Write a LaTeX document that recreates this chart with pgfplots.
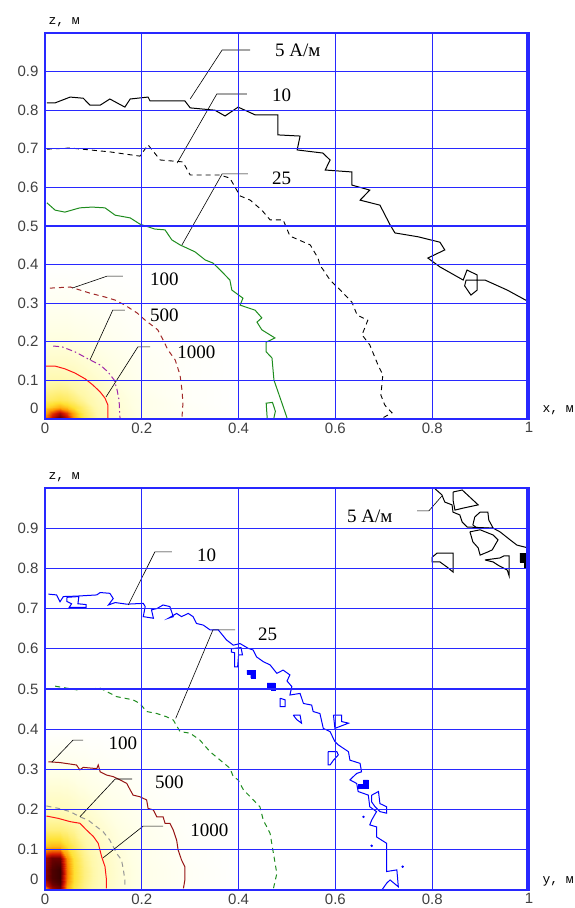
\documentclass[border=0pt]{standalone}
\usepackage{fontspec}
\setmainfont{Liberation Serif}
\newfontfamily\ticksf{Liberation Sans}
\newfontfamily\monof{Liberation Mono}
\usepackage{pgfplots}
\pgfplotsset{compat=1.18}
\definecolor{gridblue}{RGB}{40,40,255}
\definecolor{cgreen}{RGB}{30,140,30}
\definecolor{cdred}{RGB}{160,40,40}
\definecolor{cpurple}{RGB}{160,40,170}
\definecolor{cred}{RGB}{255,20,20}
\definecolor{cbrown}{RGB}{150,20,20}
\definecolor{cgray}{RGB}{150,150,150}
\newcommand{\annot}{\fontsize{19}{19}\selectfont}
\pgfplotsset{
  mathcad/.style={
    scale only axis, width=484pt,
    xmin=0, xmax=1, ymin=0, ymax=1,
    xtick={0,0.2,0.4,0.6,0.8,1},
    ytick={0.1,0.2,0.3,0.4,0.5,0.6,0.7,0.8,0.9},
    extra y ticks={0},
    extra y tick style={grid=none, yticklabel style={yshift=11pt}},
    grid=major,
    major grid style={gridblue, line width=1.1pt},
    axis line style={gridblue, line width=1.1pt},
    major tick length=0pt,
    tick label style={font=\ticksf\fontsize{15}{15}\selectfont, text=black!75},
    /pgf/number format/assume math mode=true,
    yticklabel style={xshift=-3pt},
    axis on top,
    colormap={heat}{rgb255(0)=(255,255,255) rgb255(0.12)=(255,255,228) rgb255(0.3)=(255,248,170) rgb255(0.5)=(255,225,50) rgb255(0.65)=(255,150,0) rgb255(0.8)=(215,25,0) rgb255(0.9)=(130,0,0) rgb255(1)=(30,0,0)},
    point meta min=0, point meta max=1,
    every axis x label/.style={at={(rel axis cs:1,0)}, anchor=west, xshift=10pt, yshift=9pt, font=\monof\fontsize{13}{13}\selectfont},
    every axis y label/.style={at={(rel axis cs:0,1)}, anchor=base west, yshift=8pt, font=\monof\fontsize{13}{13}\selectfont},
  },
  leader/.style={black, line width=0.6pt, no markers},
}
\begin{document}
\begin{tikzpicture}[x=1pt,y=1pt]
\path[use as bounding box] (0,0) rectangle (574,908);
% ---------------- top panel ----------------
\begin{axis}[mathcad, height=386pt, at={(45pt,489pt)}, anchor=south west, xlabel={x, м}, ylabel={z, м}]
\addplot[surf, shader=interp, mesh/cols=11, point meta=explicit] table[meta=c] {
x z c
0 0 0.7
0.015 0 0.85
0.03 0 0.95
0.045 0 0.85
0.06 0 0.65
0.08 0 0.45
0.11 0 0.3
0.15 0 0.2
0.2 0 0.12
0.3 0 0.05
0.4 0 0
0 0.015 0.6
0.015 0.015 0.75
0.03 0.015 0.85
0.045 0.015 0.75
0.06 0.015 0.6
0.08 0.015 0.42
0.11 0.015 0.28
0.15 0.015 0.18
0.2 0.015 0.11
0.3 0.015 0.04
0.4 0.015 0
0 0.03 0.5
0.015 0.03 0.55
0.03 0.03 0.6
0.045 0.03 0.55
0.06 0.03 0.48
0.08 0.03 0.38
0.11 0.03 0.26
0.15 0.03 0.17
0.2 0.03 0.1
0.3 0.03 0.04
0.4 0.03 0
0 0.05 0.4
0.015 0.05 0.42
0.03 0.05 0.44
0.045 0.05 0.42
0.06 0.05 0.38
0.08 0.05 0.32
0.11 0.05 0.24
0.15 0.05 0.16
0.2 0.05 0.1
0.3 0.05 0.03
0.4 0.05 0
0 0.08 0.32
0.015 0.08 0.33
0.03 0.08 0.34
0.045 0.08 0.33
0.06 0.08 0.3
0.08 0.08 0.27
0.11 0.08 0.21
0.15 0.08 0.14
0.2 0.08 0.08
0.3 0.08 0.03
0.4 0.08 0
0 0.11 0.26
0.015 0.11 0.27
0.03 0.11 0.27
0.045 0.11 0.26
0.06 0.11 0.25
0.08 0.11 0.22
0.11 0.11 0.18
0.15 0.11 0.12
0.2 0.11 0.07
0.3 0.11 0.02
0.4 0.11 0
0 0.15 0.2
0.015 0.15 0.2
0.03 0.15 0.2
0.045 0.15 0.2
0.06 0.15 0.19
0.08 0.15 0.17
0.11 0.15 0.14
0.15 0.15 0.1
0.2 0.15 0.06
0.3 0.15 0.02
0.4 0.15 0
0 0.2 0.14
0.015 0.2 0.14
0.03 0.2 0.14
0.045 0.2 0.14
0.06 0.2 0.13
0.08 0.2 0.12
0.11 0.2 0.1
0.15 0.2 0.07
0.2 0.2 0.04
0.3 0.2 0.01
0.4 0.2 0
0 0.3 0.06
0.015 0.3 0.06
0.03 0.3 0.06
0.045 0.3 0.06
0.06 0.3 0.05
0.08 0.3 0.05
0.11 0.3 0.04
0.15 0.3 0.03
0.2 0.3 0.02
0.3 0.3 0
0.4 0.3 0
0 0.4 0
0.015 0.4 0
0.03 0.4 0
0.045 0.4 0
0.06 0.4 0
0.08 0.4 0
0.11 0.4 0
0.15 0.4 0
0.2 0.4 0
0.3 0.4 0
0.4 0.4 0
};
% 5 A/m
\addplot[black, line width=1pt, no markers] coordinates {
(0.004,0.819) (0.021,0.819) (0.052,0.834) (0.079,0.831) (0.093,0.813) (0.114,0.813) (0.134,0.829) (0.165,0.808) (0.176,0.829) (0.213,0.834) (0.217,0.824) (0.289,0.824) (0.30,0.806) (0.351,0.80) (0.372,0.785) (0.399,0.808) (0.434,0.788) (0.481,0.788) (0.481,0.736) (0.527,0.733) (0.521,0.697) (0.574,0.689) (0.589,0.671) (0.579,0.645) (0.634,0.640) (0.634,0.606) (0.671,0.593) (0.651,0.567) (0.692,0.554) (0.713,0.503) (0.723,0.482) (0.771,0.472) (0.816,0.458) (0.826,0.438) (0.791,0.417) (0.816,0.394) (0.864,0.360) (0.872,0.386) (0.893,0.373) (0.893,0.334) (0.880,0.321) (0.867,0.345) (0.870,0.360) (0.909,0.360) (0.955,0.334) (0.996,0.306)};
% 10 A/m
\addplot[black, line width=0.9pt, no markers, dash pattern=on 5pt off 4pt] coordinates {
(0.004,0.699) (0.052,0.702) (0.093,0.697) (0.134,0.692) (0.196,0.681) (0.213,0.710) (0.238,0.671) (0.285,0.666) (0.30,0.632) (0.362,0.632) (0.382,0.624) (0.403,0.578) (0.424,0.567) (0.448,0.541) (0.465,0.516) (0.492,0.516) (0.506,0.474) (0.548,0.451) (0.564,0.417) (0.568,0.399) (0.589,0.360) (0.61,0.334) (0.634,0.303) (0.645,0.269) (0.667,0.256) (0.655,0.218) (0.671,0.192) (0.688,0.140) (0.698,0.114) (0.694,0.062) (0.702,0.036) (0.717,0.016) (0.698,0.003)};
% 25 A/m
\addplot[cgreen, line width=1pt, no markers] coordinates {
(0.004,0.560) (0.021,0.541) (0.041,0.536) (0.072,0.547) (0.097,0.549) (0.124,0.547) (0.145,0.528) (0.176,0.521) (0.196,0.505) (0.227,0.492) (0.248,0.490) (0.262,0.464) (0.279,0.451) (0.31,0.433) (0.331,0.412) (0.347,0.404) (0.362,0.386) (0.382,0.360) (0.386,0.334) (0.409,0.313) (0.403,0.295) (0.434,0.282) (0.448,0.262) (0.438,0.251) (0.448,0.231) (0.475,0.210) (0.457,0.199) (0.457,0.174) (0.469,0.158) (0.473,0.101) (0.486,0.054) (0.50,0.003)};
\addplot[cgreen, line width=1pt, no markers] coordinates {
(0.459,0.003) (0.457,0.041) (0.470,0.043) (0.476,0.020) (0.473,0.003)};
% 100
\addplot[cdred, line width=1pt, no markers, dash pattern=on 5pt off 4pt] coordinates {
(0.010,0.339) (0.052,0.342) (0.093,0.326) (0.124,0.316) (0.145,0.308) (0.165,0.295) (0.190,0.275) (0.207,0.256) (0.233,0.231) (0.244,0.205) (0.254,0.179) (0.269,0.153) (0.279,0.114) (0.283,0.075) (0.285,0.041) (0.283,0.003)};
% 500
\addplot[cpurple, line width=1pt, no markers, dash pattern=on 6pt off 3pt on 1.5pt off 3pt] coordinates {
(0.017,0.189) (0.035,0.187) (0.062,0.174) (0.093,0.153) (0.114,0.140) (0.130,0.122) (0.143,0.101) (0.149,0.075) (0.153,0.049) (0.155,0.003)};
% 1000
\addplot[cred, line width=1pt, no markers] coordinates {
(0,0.137) (0.021,0.137) (0.041,0.130) (0.062,0.119) (0.083,0.104) (0.099,0.088) (0.114,0.070) (0.124,0.054) (0.130,0.036) (0.130,0.003)};
% leaders
\addplot[leader] coordinates {(0.30,0.829) (0.366,0.956) (0.424,0.956)};
\addplot[leader] coordinates {(0.273,0.663) (0.355,0.842) (0.417,0.842)};
\addplot[leader] coordinates {(0.283,0.451) (0.366,0.635) (0.419,0.635)};
\addplot[leader] coordinates {(0.056,0.339) (0.128,0.370) (0.161,0.370)};
\addplot[leader] coordinates {(0.093,0.153) (0.14,0.282) (0.165,0.282)};
\addplot[leader] coordinates {(0.126,0.057) (0.192,0.187) (0.217,0.187)};
\node[anchor=west, inner sep=0pt, font=\annot] at (axis cs:0.475,0.956) {5 А/м};
\node[anchor=west, inner sep=0pt, font=\annot] at (axis cs:0.469,0.839) {10};
\node[anchor=west, inner sep=0pt, font=\annot] at (axis cs:0.469,0.624) {25};
\node[anchor=west, inner sep=0pt, font=\annot] at (axis cs:0.217,0.363) {100};
\node[anchor=west, inner sep=0pt, font=\annot] at (axis cs:0.217,0.269) {500};
\node[anchor=west, inner sep=0pt, font=\annot] at (axis cs:0.273,0.173) {1000};
\draw[gridblue, line width=3pt] (axis cs:0.997,0) -- (axis cs:0.997,1);
\end{axis}
% ---------------- bottom panel ----------------
\begin{axis}[mathcad, height=402pt, at={(45pt,18pt)}, anchor=south west, xlabel={y, м}, ylabel={z, м}]
\addplot[surf, shader=interp, mesh/cols=11, point meta=explicit] table[meta=c] {
x z c
0 0 0.55
0.015 0 0.85
0.03 0 0.9
0.045 0 0.6
0.06 0 0.45
0.08 0 0.35
0.11 0 0.25
0.15 0 0.17
0.2 0 0.1
0.3 0 0.04
0.4 0 0
0 0.015 0.8
0.015 0.015 0.92
0.03 0.015 0.95
0.045 0.015 0.65
0.06 0.015 0.48
0.08 0.015 0.36
0.11 0.015 0.26
0.15 0.015 0.17
0.2 0.015 0.1
0.3 0.015 0.04
0.4 0.015 0
0 0.03 0.88
0.015 0.03 0.95
0.03 0.03 0.97
0.045 0.03 0.68
0.06 0.03 0.5
0.08 0.03 0.37
0.11 0.03 0.26
0.15 0.03 0.17
0.2 0.03 0.1
0.3 0.03 0.04
0.4 0.03 0
0 0.05 0.88
0.015 0.05 0.95
0.03 0.05 0.97
0.045 0.05 0.68
0.06 0.05 0.5
0.08 0.05 0.37
0.11 0.05 0.26
0.15 0.05 0.17
0.2 0.05 0.1
0.3 0.05 0.04
0.4 0.05 0
0 0.08 0.85
0.015 0.08 0.92
0.03 0.08 0.92
0.045 0.08 0.65
0.06 0.08 0.48
0.08 0.08 0.35
0.11 0.08 0.25
0.15 0.08 0.16
0.2 0.08 0.09
0.3 0.08 0.03
0.4 0.08 0
0 0.11 0.55
0.015 0.11 0.58
0.03 0.11 0.58
0.045 0.11 0.5
0.06 0.11 0.42
0.08 0.11 0.32
0.11 0.11 0.23
0.15 0.11 0.15
0.2 0.11 0.09
0.3 0.11 0.03
0.4 0.11 0
0 0.15 0.38
0.015 0.15 0.38
0.03 0.15 0.38
0.045 0.15 0.36
0.06 0.15 0.33
0.08 0.15 0.27
0.11 0.15 0.2
0.15 0.15 0.13
0.2 0.15 0.08
0.3 0.15 0.02
0.4 0.15 0
0 0.2 0.25
0.015 0.2 0.25
0.03 0.2 0.25
0.045 0.2 0.24
0.06 0.2 0.22
0.08 0.2 0.19
0.11 0.2 0.15
0.15 0.2 0.1
0.2 0.2 0.06
0.3 0.2 0.02
0.4 0.2 0
0 0.3 0.1
0.015 0.3 0.1
0.03 0.3 0.1
0.045 0.3 0.1
0.06 0.3 0.09
0.08 0.3 0.08
0.11 0.3 0.06
0.15 0.3 0.04
0.2 0.3 0.02
0.3 0.3 0
0.4 0.3 0
0 0.4 0
0.015 0.4 0
0.03 0.4 0
0.045 0.4 0
0.06 0.4 0
0.08 0.4 0
0.11 0.4 0
0.15 0.4 0
0.2 0.4 0
0.3 0.4 0
0.4 0.4 0
};
% 5 A/m (black)
\addplot[black, line width=1pt, no markers] coordinates {
(0.804,1.0) (0.820,0.983) (0.826,0.965) (0.841,0.958) (0.843,0.940) (0.857,0.933) (0.862,0.915) (0.872,0.903) (0.926,0.900) (0.940,0.891) (0.961,0.871) (0.975,0.858) (0.998,0.851)};
\addplot[black, line width=1pt, no markers] coordinates {
(0.843,0.990) (0.862,0.995) (0.895,0.958) (0.864,0.950) (0.847,0.945) (0.843,0.970) (0.843,0.990)};
\addplot[black, line width=1pt, no markers] coordinates {
(0.884,0.908) (0.888,0.928) (0.899,0.940) (0.915,0.940) (0.917,0.920) (0.926,0.900) (0.893,0.900) (0.884,0.908)};
\addplot[black, line width=1pt, no markers] coordinates {
(0.878,0.891) (0.899,0.896) (0.926,0.883) (0.936,0.871) (0.924,0.846) (0.915,0.841) (0.899,0.833) (0.895,0.851) (0.884,0.866) (0.878,0.891)};
\addplot[black, line width=1pt, no markers] coordinates {
(0.909,0.821) (0.940,0.826) (0.948,0.831) (0.959,0.831) (0.959,0.781) (0.955,0.796) (0.936,0.808) (0.926,0.816) (0.909,0.821)};
\addplot[black, line width=1pt, no markers] coordinates {
(0.800,0.828) (0.810,0.838) (0.843,0.838) (0.843,0.791) (0.831,0.803) (0.816,0.816) (0.800,0.816) (0.800,0.828)};
\addplot[black, fill=black, no markers] coordinates {
(0.981,0.838) (0.998,0.838) (0.998,0.803) (0.990,0.803) (0.990,0.815) (0.981,0.815) (0.981,0.838)};
% 10 A/m (blue)
\addplot[blue, line width=1pt, no markers] coordinates {
(0.007,0.736) (0.024,0.734) (0.031,0.717) (0.038,0.730) (0.065,0.731) (0.107,0.734) (0.114,0.740) (0.134,0.738) (0.141,0.725) (0.131,0.709) (0.145,0.715) (0.169,0.711) (0.203,0.713) (0.207,0.705) (0.203,0.680) (0.224,0.676) (0.220,0.697) (0.231,0.700) (0.244,0.709) (0.258,0.705) (0.265,0.680) (0.255,0.676) (0.272,0.688) (0.282,0.680) (0.296,0.688) (0.306,0.680) (0.313,0.663) (0.327,0.659) (0.341,0.647) (0.358,0.647) (0.375,0.622) (0.389,0.609) (0.403,0.613) (0.420,0.601) (0.430,0.597) (0.437,0.580) (0.451,0.568) (0.465,0.560) (0.479,0.539) (0.492,0.547) (0.506,0.535) (0.500,0.520) (0.510,0.506) (0.506,0.485) (0.527,0.489) (0.534,0.464) (0.551,0.460) (0.554,0.444) (0.568,0.439) (0.575,0.402) (0.589,0.394) (0.599,0.369) (0.606,0.361) (0.627,0.344) (0.630,0.323) (0.651,0.315) (0.654,0.294) (0.644,0.290) (0.630,0.274) (0.644,0.265) (0.647,0.245) (0.668,0.236) (0.671,0.207) (0.685,0.195) (0.675,0.174) (0.671,0.162) (0.685,0.157) (0.685,0.132) (0.706,0.116) (0.706,0.046) (0.727,0.050) (0.730,0.008) (0.713,0.025) (0.706,0.017) (0.696,0.0)};
\addplot[blue, line width=1pt, no markers] coordinates {(0.385,0.600) (0.405,0.603) (0.408,0.585) (0.400,0.585) (0.398,0.555) (0.392,0.555) (0.392,0.590) (0.385,0.592) (0.385,0.600)};
\addplot[blue, line width=1pt, no markers] coordinates {(0.596,0.435) (0.613,0.435) (0.613,0.419) (0.627,0.415) (0.599,0.402) (0.596,0.435)};
\addplot[blue, line width=1pt, no markers] coordinates {(0.585,0.344) (0.603,0.344) (0.606,0.336) (0.596,0.323) (0.589,0.311) (0.585,0.311) (0.585,0.344)};
\addplot[blue, line width=1pt, no markers] coordinates {(0.675,0.236) (0.689,0.245) (0.692,0.215) (0.706,0.207) (0.706,0.191) (0.692,0.195) (0.682,0.207) (0.675,0.219) (0.675,0.236)};
\addplot[blue, line width=1pt, no markers] coordinates {(0.513,0.435) (0.527,0.435) (0.530,0.415) (0.520,0.424) (0.513,0.435)};
\addplot[blue, line width=1pt, no markers] coordinates {(0.486,0.477) (0.496,0.473) (0.496,0.456) (0.486,0.456) (0.486,0.477)};
\addplot[blue, line width=1pt, no markers] coordinates {(0.045,0.728) (0.070,0.730) (0.068,0.712) (0.085,0.710) (0.085,0.703) (0.050,0.703) (0.055,0.712) (0.045,0.718) (0.045,0.728)};
\addplot[blue, fill=blue, no markers] coordinates {(0.417,0.547) (0.434,0.547) (0.434,0.527) (0.425,0.527) (0.425,0.537) (0.417,0.537) (0.417,0.547)};
\addplot[blue, fill=blue, no markers] coordinates {(0.459,0.515) (0.475,0.515) (0.475,0.498) (0.467,0.498) (0.467,0.505) (0.459,0.505) (0.459,0.515)};
\addplot[blue, fill=blue, no markers] coordinates {(0.647,0.262) (0.658,0.262) (0.658,0.274) (0.668,0.274) (0.668,0.254) (0.647,0.254) (0.647,0.262)};
\addplot[blue, only marks, mark=*, mark size=1pt] coordinates {(0.658,0.182) (0.675,0.110) (0.739,0.058)};
% 25 A/m (green dashed)
\addplot[cgreen, line width=1pt, no markers, dash pattern=on 5pt off 4pt] coordinates {
(0.021,0.507) (0.065,0.498) (0.114,0.502) (0.148,0.481) (0.182,0.473) (0.196,0.464) (0.210,0.444) (0.231,0.439) (0.251,0.431) (0.265,0.423) (0.279,0.394) (0.30,0.390) (0.320,0.373) (0.341,0.344) (0.362,0.323) (0.382,0.303) (0.389,0.282) (0.399,0.274) (0.410,0.249) (0.424,0.232) (0.444,0.207) (0.451,0.174) (0.465,0.141) (0.472,0.091) (0.479,0.041) (0.472,0.004)};
% 100 (brown solid)
\addplot[cbrown, line width=1pt, no markers] coordinates {
(0.007,0.319) (0.031,0.317) (0.065,0.311) (0.072,0.299) (0.079,0.305) (0.107,0.302) (0.110,0.311) (0.114,0.294) (0.127,0.286) (0.141,0.282) (0.155,0.274) (0.169,0.265) (0.176,0.249) (0.182,0.236) (0.196,0.232) (0.210,0.224) (0.213,0.203) (0.224,0.199) (0.231,0.182) (0.244,0.182) (0.248,0.166) (0.258,0.166) (0.265,0.149) (0.272,0.124) (0.275,0.100) (0.282,0.075) (0.289,0.058) (0.289,0.025) (0.286,0.004)};
% 500 (gray dashed)
\addplot[cgray, line width=1pt, no markers, dash pattern=on 5pt off 4pt] coordinates {
(0.003,0.209) (0.028,0.203) (0.052,0.195) (0.072,0.182) (0.089,0.174) (0.107,0.157) (0.120,0.145) (0.134,0.124) (0.148,0.091) (0.158,0.075) (0.162,0.050) (0.165,0.025) (0.165,0.004)};
% 1000 (red)
\addplot[cred, line width=1pt, no markers] coordinates {
(0.003,0.184) (0.028,0.178) (0.052,0.170) (0.072,0.166) (0.086,0.149) (0.100,0.133) (0.110,0.116) (0.117,0.083) (0.124,0.058) (0.127,0.025) (0.127,0.004)};
% leaders
\addplot[leader] coordinates {(0.769,0.943) (0.793,0.943) (0.820,0.980)};
\addplot[leader] coordinates {(0.172,0.709) (0.227,0.841) (0.262,0.841)};
\addplot[leader] coordinates {(0.27,0.427) (0.347,0.647) (0.393,0.647)};
\addplot[leader] coordinates {(0.014,0.318) (0.058,0.373) (0.079,0.373)};
\addplot[leader] coordinates {(0.072,0.182) (0.145,0.276) (0.180,0.276)};
\addplot[leader] coordinates {(0.12,0.080) (0.203,0.159) (0.244,0.159)};
\node[anchor=west, inner sep=0pt, font=\annot] at (axis cs:0.624,0.930) {5 А/м};
\node[anchor=west, inner sep=0pt, font=\annot] at (axis cs:0.314,0.833) {10};
\node[anchor=west, inner sep=0pt, font=\annot] at (axis cs:0.44,0.637) {25};
\node[anchor=west, inner sep=0pt, font=\annot] at (axis cs:0.131,0.366) {100};
\node[anchor=west, inner sep=0pt, font=\annot] at (axis cs:0.227,0.269) {500};
\node[anchor=west, inner sep=0pt, font=\annot] at (axis cs:0.30,0.149) {1000};
\draw[gridblue, line width=3pt] (axis cs:0.997,0) -- (axis cs:0.997,1);
\end{axis}
\end{tikzpicture}
\end{document}
